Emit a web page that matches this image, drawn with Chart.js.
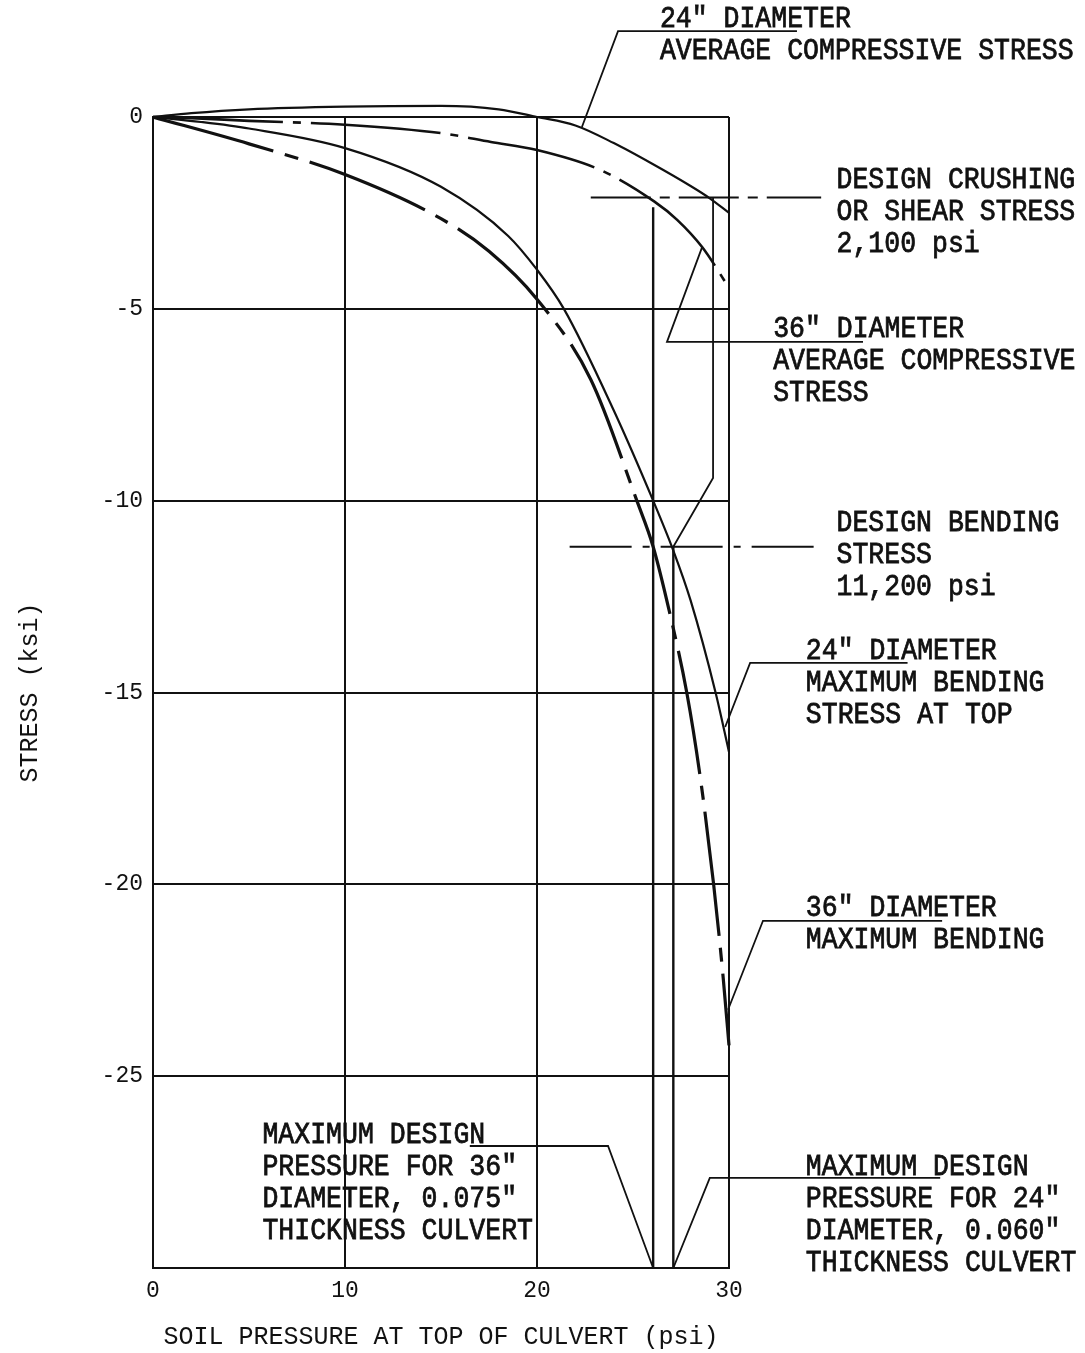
<!DOCTYPE html>
<html>
<head>
<meta charset="utf-8">
<script src="https://cdn.jsdelivr.net/npm/chart.js@4.4.1/dist/chart.umd.min.js"></script>
<style>
  html, body { margin: 0; padding: 0; background: #fff; }
  canvas { display: block; }
</style>
</head>
<body>
<canvas id="c" width="1085" height="1353"></canvas>
<script>
// Soil pressure at top of culvert (psi) against stress (ksi)

// 24" diameter, average compressive stress
const avg24X = [0, 2, 5, 10, 15, 18, 20, 22, 24, 26, 28, 29, 30];
const avg24Y = [0, 0.1, 0.2, 0.27, 0.29, 0.2, 0.0, -0.22, -0.68, -1.22, -1.8, -2.12, -2.5];

// 36" diameter, average compressive stress
const avg36X = [0, 2, 5, 10, 15, 17.6, 20, 23.3, 26.1, 27.3, 28.6, 30];
const avg36Y = [0, -0.03, -0.1, -0.2, -0.42, -0.65, -0.86, -1.38, -2.2, -2.68, -3.39, -4.45];

// 24" diameter, maximum bending stress at top
const bend24X = [0, 2.5, 5, 10, 15, 18.5, 20, 21.4, 24, 26.05, 27.1, 28, 29.3, 30];
const bend24Y = [0, -0.13, -0.3, -0.81, -1.82, -3.1, -3.98, -5, -7.65, -10, -11.3, -12.6, -15, -16.55];

// 36" diameter, maximum bending stress
const bend36X = [0, 5, 10, 15, 17.5, 20, 22.8, 25.2, 26.05, 26.9, 27.8, 28.5, 29.2, 29.7, 30];
const bend36Y = [0, -0.7, -1.5, -2.65, -3.5, -4.75, -6.84, -10, -11.2, -12.9, -15, -17.2, -20, -22.45, -24.2];

// Design limits (ksi)
const crushingStress = -2.1;   // 2,100 psi
const bendingStress = -11.2;   // 11,200 psi
const crushingSpan = [22.8, 34.8];
const bendingSpan = [21.7, 34.6];

// Maximum design pressures (psi)
const maxPressure36 = 26.05;
const maxPressure24 = 27.1;

// Axis ticks
const xTicks = [0, 10, 20, 30];
const yTicks = [0, -5, -10, -15, -20, -25, -30];

// Leader lines from notes to curves, as [x, y] pairs in axis units
const leaderAvg24 = [[33.54, 2.24], [24.22, 2.24], [22.34, -0.26]];
const leaderAvg36 = [[36.98, -5.86], [26.77, -5.86], [28.6, -3.39]];
const leaderBend24 = [[39.3, -14.23], [31.1, -14.23], [29.8, -15.9]];
const leaderBend36 = [[41.1, -20.95], [31.77, -20.95], [29.95, -23.27]];
const leaderPress36 = [[16.5, -26.82], [23.7, -26.82], [maxPressure36, -30]];
const leaderPress24 = [[41.0, -27.65], [29.0, -27.65], [maxPressure24, -30]];
const constructionLine = [[29.17, crushingStress], [29.17, -9.41], [maxPressure24, bendingStress]];

// Notes: anchor (axis units) of the first line's left baseline
const notes = [
  { x: 26.4, y: 2.35, lines: ['24" DIAMETER', 'AVERAGE COMPRESSIVE STRESS'] },
  { x: 35.6, y: -1.85, lines: ['DESIGN CRUSHING', 'OR SHEAR STRESS', '2,100 psi'] },
  { x: 32.3, y: -5.73, lines: ['36" DIAMETER', 'AVERAGE COMPRESSIVE', 'STRESS'] },
  { x: 35.6, y: -10.79, lines: ['DESIGN BENDING', 'STRESS', '11,200 psi'] },
  { x: 34.0, y: -14.13, lines: ['24" DIAMETER', 'MAXIMUM BENDING', 'STRESS AT TOP'] },
  { x: 34.0, y: -20.82, lines: ['36" DIAMETER', 'MAXIMUM BENDING'] },
  { x: 5.7, y: -26.74, lines: ['MAXIMUM DESIGN', 'PRESSURE FOR 36"', 'DIAMETER, 0.075"', 'THICKNESS CULVERT'] },
  { x: 34.0, y: -27.57, lines: ['MAXIMUM DESIGN', 'PRESSURE FOR 24"', 'DIAMETER, 0.060"', 'THICKNESS CULVERT'] }
];

const pts = (xs, ys) => xs.map((x, i) => ({ x, y: ys[i] }));
const pairs = arr => arr.map(([x, y]) => ({ x, y }));

const INK = '#111';
const MONO = '"Liberation Mono", "DejaVu Sans Mono", monospace';

function curve(data, width, dash, clip) {
  return {
    data, showLine: true, pointRadius: 0, borderColor: INK, borderWidth: width,
    borderDash: dash || [], cubicInterpolationMode: 'monotone', fill: false,
    clip: clip === undefined ? { left: 0, top: 30, right: 6, bottom: 0 } : clip
  };
}
function straight(data, width, dash) {
  return {
    data, showLine: true, pointRadius: 0, borderColor: INK, borderWidth: width,
    borderDash: dash || [], tension: 0, fill: false, clip: false
  };
}

const notesPlugin = {
  id: 'notes',
  beforeDraw(chart) {
    const { ctx, width, height } = chart;
    ctx.save();
    ctx.fillStyle = '#fff';
    ctx.fillRect(0, 0, width, height);
    ctx.restore();
  },
  afterDatasetsDraw(chart) {
    const { ctx, scales: { x, y } } = chart;
    const lineGap = 32;
    ctx.save();
    ctx.fillStyle = INK;
    ctx.strokeStyle = INK;
    ctx.lineWidth = 0.7;
    ctx.font = '26px ' + MONO;
    ctx.textAlign = 'left';
    ctx.textBaseline = 'alphabetic';
    notes.forEach(n => {
      const px = x.getPixelForValue(n.x);
      const py = y.getPixelForValue(n.y);
      n.lines.forEach((t, i) => {
        ctx.save();
        ctx.translate(px, py + i * lineGap);
        ctx.scale(1.02, 1.1);
        ctx.fillText(t, 0, 0);
        ctx.strokeText(t, 0, 0);
        ctx.restore();
      });
    });
    ctx.restore();
  }
};

new Chart(document.getElementById('c'), {
  type: 'scatter',
  data: {
    datasets: [
      curve(pts(avg24X, avg24Y), 2.2),
      curve(pts(avg36X, avg36Y), 2.6, [130, 10, 8, 10]),
      curve(pts(bend24X, bend24Y), 2.2),
      curve(pts(bend36X, bend36Y), 3.2, [125, 12, 14, 12]),
      straight([{ x: crushingSpan[0], y: crushingStress }, { x: crushingSpan[1], y: crushingStress }], 2, [60, 9, 10, 9]),
      straight([{ x: bendingSpan[0], y: bendingStress }, { x: bendingSpan[1], y: bendingStress }], 2, [62, 11, 7, 11]),
      straight([{ x: maxPressure36, y: -2.35 }, { x: maxPressure36, y: -30 }], 2.4),
      straight([{ x: maxPressure24, y: bendingStress }, { x: maxPressure24, y: -30 }], 2.4),
      straight(pairs(constructionLine), 1.8),
      straight(pairs(leaderAvg24), 1.8),
      straight(pairs(leaderAvg36), 1.8),
      straight(pairs(leaderBend24), 1.8),
      straight(pairs(leaderBend36), 1.8),
      straight(pairs(leaderPress36), 1.8),
      straight(pairs(leaderPress24), 1.8)
    ]
  },
  options: {
    responsive: false,
    animation: false,
    events: [],
    layout: { padding: { top: 117, right: 356, bottom: 0, left: 0 } },
    plugins: { legend: { display: false }, tooltip: { enabled: false } },
    scales: {
      x: {
        type: 'linear', min: 0, max: 30,
        afterBuildTicks: s => { s.ticks = xTicks.map(v => ({ value: v })); },
        afterFit: s => { s.height = 85; },
        grid: { color: INK, lineWidth: 2, drawTicks: false },
        border: { color: INK, width: 2 },
        ticks: { color: INK, padding: 9, font: { family: MONO, size: 23 }, maxRotation: 0 },
        title: {
          display: true, text: 'SOIL PRESSURE AT TOP OF CULVERT (psi)', color: INK,
          font: { family: MONO, size: 25, lineHeight: 1.2 }, padding: { top: 0, bottom: 1 }
        }
      },
      y: {
        type: 'linear', min: -30, max: 0,
        afterBuildTicks: s => { s.ticks = yTicks.map(v => ({ value: v })); },
        afterFit: s => { s.width = 153; },
        grid: { color: INK, lineWidth: 2, drawTicks: false },
        border: { color: INK, width: 2 },
        ticks: {
          color: INK, padding: 10, font: { family: MONO, size: 23 },
          callback: v => (v === -30 ? '' : String(v))
        },
        title: {
          display: true, text: 'STRESS (ksi)', color: INK,
          font: { family: MONO, size: 25, lineHeight: 1.2 }, padding: { top: 15, bottom: 0 }
        }
      }
    }
  },
  plugins: [notesPlugin]
});
</script>
</body>
</html>
